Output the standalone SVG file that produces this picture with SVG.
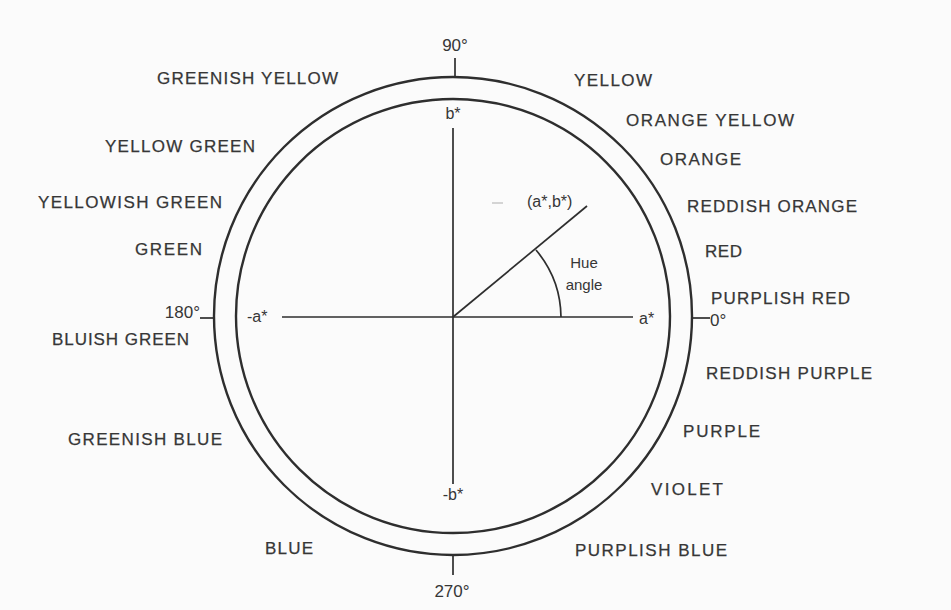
<svg xmlns="http://www.w3.org/2000/svg" width="951" height="610" viewBox="0 0 951 610">
<style>
.lbl{font-family:"Liberation Sans",Arial,sans-serif;font-size:17px;fill:#363636;stroke:#363636;stroke-width:0.25;}
.deg{font-family:"Liberation Sans",Arial,sans-serif;font-size:17px;fill:#363636;}
.ax{font-family:"Liberation Sans",Arial,sans-serif;font-size:16px;fill:#363636;}
.hue{font-family:"Liberation Sans",Arial,sans-serif;font-size:15px;fill:#363636;}
.ring{fill:none;stroke:#2e2e2e;stroke-width:2.4;}
.ln{stroke:#2e2e2e;stroke-width:1.7;fill:none;}
</style>
<rect width="951" height="610" fill="#fbfbfb"/>
<g id="wheel">
<circle class="ring" cx="453" cy="316" r="239"/>
<circle class="ring" cx="453" cy="316" r="217"/>
</g>
<g id="connectors">
<line class="ln" x1="455" y1="58" x2="455" y2="76"/>
<line class="ln" x1="453" y1="555" x2="453" y2="575"/>
<line class="ln" x1="200" y1="318" x2="214" y2="318"/>
<line class="ln" x1="692" y1="318" x2="710" y2="318"/>
<line class="ln" x1="453" y1="128" x2="453" y2="484"/>
<line class="ln" x1="282" y1="317" x2="633" y2="317"/>
<line class="ln" x1="453" y1="317" x2="587" y2="206"/>
<path class="ln" d="M536,250 A106,106 0 0 1 561,317"/>
<line x1="492" y1="203" x2="503" y2="203" stroke="#bbb" stroke-width="1.2"/>
</g>
<g id="axis-labels">
<text class="ax" x="453" y="119" text-anchor="middle">b*</text>
<text class="ax" x="453" y="500" text-anchor="middle">-b*</text>
<text class="ax" x="247" y="322">-a*</text>
<text class="ax" x="639" y="324">a*</text>
<text class="ax" x="527" y="207">(a*,b*)</text>
<text class="hue" x="584" y="268" text-anchor="middle">Hue</text>
<text class="hue" x="584" y="290" text-anchor="middle">angle</text>
</g>
<g id="degrees">
<text class="deg" x="455" y="51" text-anchor="middle">90°</text>
<text class="deg" x="200" y="318" text-anchor="end">180°</text>
<text class="deg" x="710" y="326">0°</text>
<text class="deg" x="452" y="597" text-anchor="middle">270°</text>
</g>
<g id="hue-names">
<text id="greenish-yellow" class="lbl" x="157" y="84" textLength="181">GREENISH YELLOW</text>
<text id="yellow" class="lbl" x="574" y="86" textLength="78">YELLOW</text>
<text id="orange-yellow" class="lbl" x="626" y="126" textLength="168">ORANGE YELLOW</text>
<text id="yellow-green" class="lbl" x="105" y="152" textLength="150">YELLOW GREEN</text>
<text id="orange" class="lbl" x="660" y="165" textLength="81">ORANGE</text>
<text id="yellowish-green" class="lbl" x="38" y="208" textLength="184">YELLOWISH GREEN</text>
<text id="reddish-orange" class="lbl" x="687" y="212" textLength="170">REDDISH ORANGE</text>
<text id="green" class="lbl" x="135" y="255" textLength="67">GREEN</text>
<text id="red" class="lbl" x="705" y="257" textLength="37">RED</text>
<text id="purplish-red" class="lbl" x="711" y="304" textLength="139">PURPLISH RED</text>
<text id="bluish-green" class="lbl" x="52" y="345" textLength="137">BLUISH GREEN</text>
<text id="reddish-purple" class="lbl" x="706" y="379" textLength="166">REDDISH PURPLE</text>
<text id="purple" class="lbl" x="683" y="437" textLength="77">PURPLE</text>
<text id="greenish-blue" class="lbl" x="68" y="445" textLength="154">GREENISH BLUE</text>
<text id="violet" class="lbl" x="651" y="495" textLength="72">VIOLET</text>
<text id="blue" class="lbl" x="265" y="554" textLength="48">BLUE</text>
<text id="purplish-blue" class="lbl" x="575" y="556" textLength="152">PURPLISH BLUE</text>
</g>
</svg>
